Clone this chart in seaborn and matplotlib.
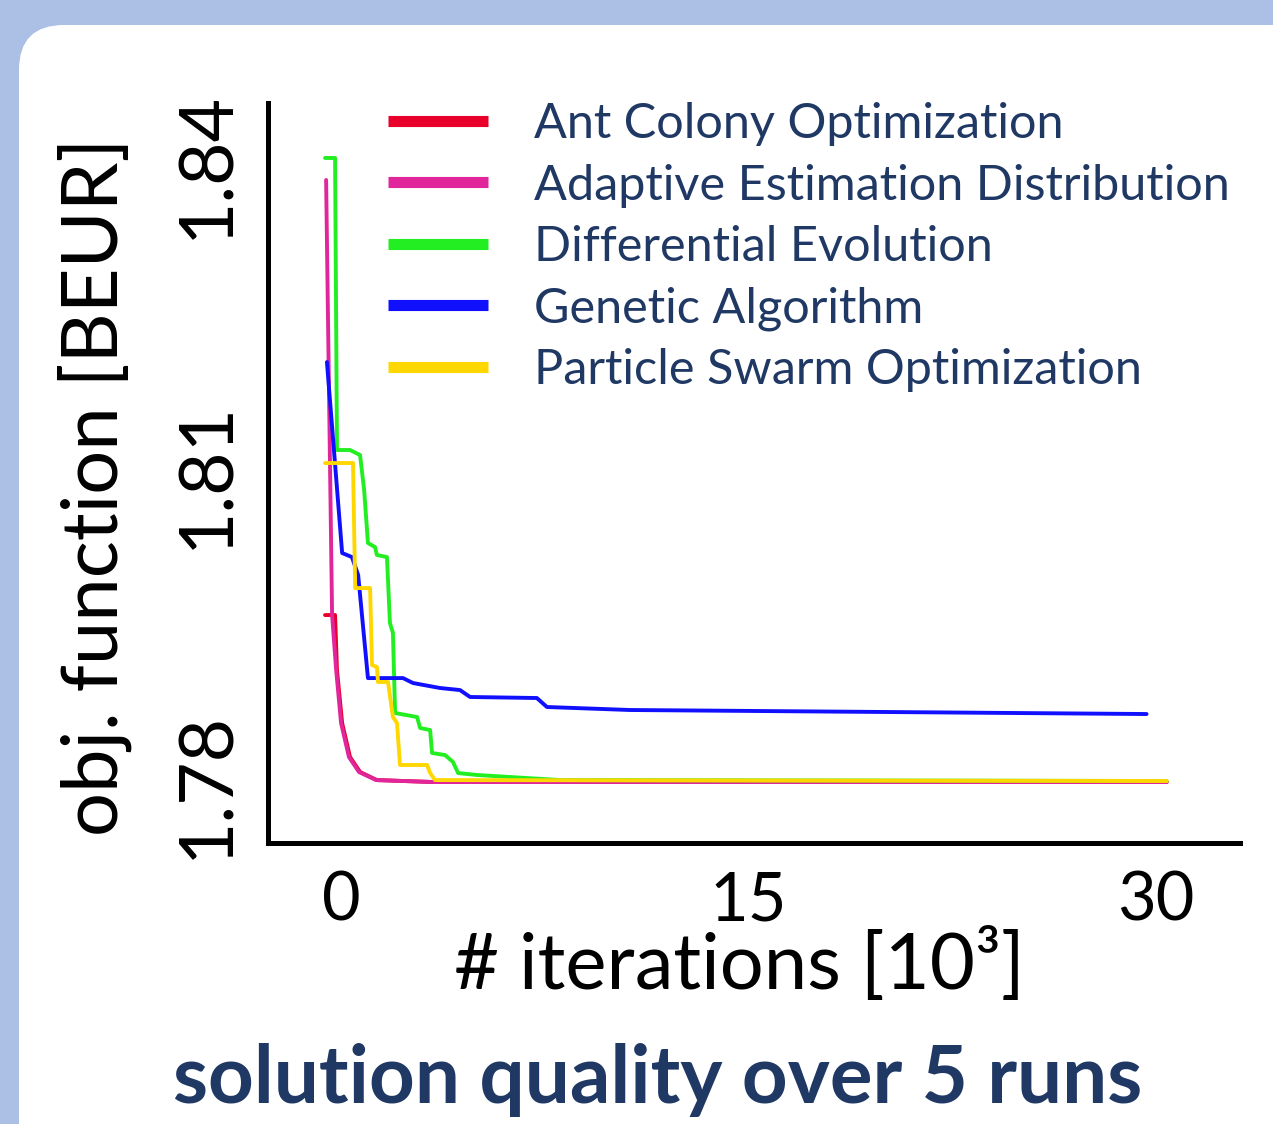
import numpy as np
import pandas as pd
import seaborn as sns
import matplotlib.pyplot as plt
from matplotlib.patches import FancyBboxPatch
from matplotlib.transforms import IdentityTransform

# convergence curves (x in 10^3 iterations, y in BEUR)
aco_x = [-0.59, -0.22, -0.15, 0.04, 0.33, 0.70, 1.32, 3.39, 30.4]
aco_y = [1.79645, 1.79645, 1.79113, 1.78600, 1.78271, 1.78126, 1.78048, 1.78029, 1.78029]

aed_x = [-0.55, -0.44, -0.33, -0.18, 0.0, 0.29, 0.66, 1.29, 3.39, 30.4]
aed_y = [1.83855, 1.81726, 1.79645, 1.79113, 1.78600, 1.78271, 1.78126, 1.78048, 1.78029, 1.78029]

de_x = [-0.59, -0.22, -0.15, 0.33, 0.70, 0.85, 0.99, 1.25, 1.32, 1.69, 1.80, 1.91,
        1.99, 2.80, 2.91, 3.28, 3.35, 3.83, 4.12, 4.31, 5.01, 8.06, 30.4]
de_y = [1.84068, 1.84068, 1.81242, 1.81242, 1.81193, 1.80855, 1.80342, 1.80303, 1.80226,
        1.80206, 1.79568, 1.79471, 1.78697, 1.78658, 1.78552, 1.78532, 1.78310, 1.78290,
        1.78223, 1.78116, 1.78097, 1.78048, 1.78039]

ga_x = [-0.52, 0.04, 0.40, 0.63, 0.99, 2.28, 2.65, 3.64, 4.38, 4.75, 7.21, 7.58, 10.64, 29.66]
ga_y = [1.82093, 1.80245, 1.80206, 1.80032, 1.79035, 1.79035, 1.78987, 1.78939, 1.78919,
        1.78852, 1.78842, 1.78755, 1.78726, 1.78687]

pso_x = [-0.59, 0.44, 0.52, 1.07, 1.14, 1.32, 1.36, 1.73, 1.91, 2.06, 2.17, 3.17, 3.28, 3.46, 30.4]
pso_y = [1.81116, 1.81116, 1.79906, 1.79906, 1.79161, 1.79142, 1.78997, 1.78997, 1.78658,
         1.78600, 1.78194, 1.78194, 1.78116, 1.78048, 1.78039]

names = ["Ant Colony Optimization", "Adaptive Estimation Distribution",
         "Differential Evolution", "Genetic Algorithm", "Particle Swarm Optimization"]
colors = ["#e8002a", "#e0269a", "#22ee22", "#1010ff", "#ffd700"]

xticks = [0, 15, 30]
yticks = [1.78, 1.81, 1.84]

frames = []
for name, xs, ys in zip(names, [aco_x, aed_x, de_x, ga_x, pso_x],
                        [aco_y, aed_y, de_y, ga_y, pso_y]):
    frames.append(pd.DataFrame({"iter": xs, "obj": ys, "algo": name}))
df = pd.concat(frames, ignore_index=True)

sns.set_style("white")
plt.rcParams["font.family"] = ["Lato", "DejaVu Sans"]

fig = plt.figure(figsize=(12.73, 11.24), dpi=100, facecolor="#abc0e4")
# white rounded panel
panel = FancyBboxPatch((19, -60), 1400, 1124 - 25 + 60,
                       boxstyle="round,pad=0,rounding_size=45",
                       transform=IdentityTransform(), facecolor="white",
                       edgecolor="none", zorder=-5)
fig.patches.append(panel)

ax = fig.add_axes([268 / 1273, 1 - 843 / 1124, 972 / 1273, 740 / 1124])
ax.set_facecolor("none")

sns.lineplot(data=df, x="iter", y="obj", hue="algo", hue_order=names,
             palette=colors, estimator=None, sort=False, linewidth=2.8, ax=ax)

ax.set_xlim(-2.69, 33.1)
ax.set_ylim(1.77439, 1.84600)
ax.set_xticks(xticks)
ax.set_xticklabels([str(t) for t in xticks])
ax.set_yticks(yticks)
ax.set_yticklabels([f"{t:.2f}" for t in yticks], rotation=90, va="center")

for side in ["top", "right"]:
    ax.spines[side].set_visible(False)
for side in ["left", "bottom"]:
    ax.spines[side].set_color("black")
    ax.spines[side].set_linewidth(3.6)

ax.tick_params(axis="both", direction="inout", length=31, width=0.8,
               color="#555555", labelcolor="black", pad=4)
ax.tick_params(axis="x", labelsize=48)
ax.tick_params(axis="y", labelsize=54)

ax.set_xlabel("# iterations [10³]", fontsize=56, color="black")
ax.set_ylabel("obj. function [BEUR]", fontsize=56, color="black")
ax.xaxis.set_label_coords(0.485, -0.115)
ax.yaxis.set_label_coords(-0.14, 0.481)

leg = ax.legend(loc="upper left", bbox_to_anchor=(388 / 1273, 1 - 102 / 1124),
                bbox_transform=fig.transFigure, frameon=False, fontsize=35,
                handlelength=2.05, handletextpad=0.95, labelspacing=0.36,
                borderaxespad=0, borderpad=0, labelcolor="#1f3864")
for h in leg.get_lines():
    h.set_linewidth(8)
    h.set_solid_capstyle("butt")

fig.text(658 / 1273, 1 - 1080 / 1124, "solution quality over 5 runs",
         ha="center", va="center", fontsize=57.5, fontweight="bold", color="#1f3864")

fig.savefig("out.png", dpi=100, facecolor=fig.get_facecolor())
